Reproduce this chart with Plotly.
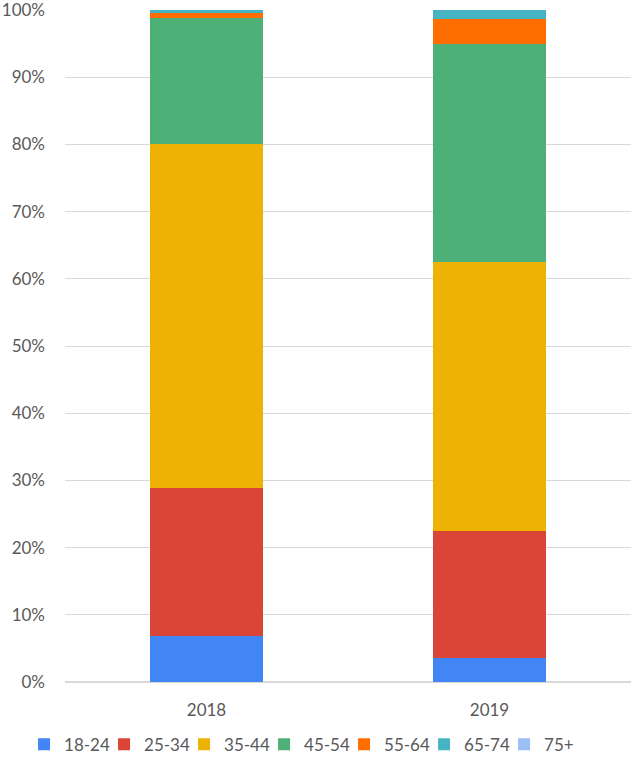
import plotly.graph_objects as graph_objects

years = ["2018", "2019"]
age_groups = ["18-24", "25-34", "35-44", "45-54", "55-64", "65-74", "75+"]
share_2018 = [6.9, 22.0, 51.2, 18.7, 0.7, 0.5, 0.0]
share_2019 = [3.6, 18.9, 40.0, 32.4, 3.8, 1.3, 0.0]
tick_values = [0, 10, 20, 30, 40, 50, 60, 70, 80, 90, 100]
colors = ["#4286F5", "#DB4537", "#EEB205", "#4DB077", "#FF6D01", "#46B4C2", "#9BBEF7"]

fig = graph_objects.Figure()
for i, group in enumerate(age_groups):
    fig.add_trace(
        graph_objects.Bar(
            x=years,
            y=[share_2018[i], share_2019[i]],
            name=group,
            marker=dict(color=colors[i], line=dict(width=0)),
        )
    )

fig.update_layout(
    barmode="stack",
    bargap=0.6,
    width=633,
    height=760,
    margin=dict(l=65, r=2, t=10, b=78, autoexpand=False),
    paper_bgcolor="white",
    plot_bgcolor="white",
    font=dict(family="Lato", size=17, color="#595959"),
    legend=dict(
        orientation="h",
        xref="container",
        yref="container",
        x=0.038,
        xanchor="left",
        y=0.02,
        yanchor="middle",
        font=dict(size=17, color="#595959"),
        itemwidth=30,
        entrywidth=35,
        traceorder="normal",
    ),
    xaxis=dict(showline=False, ticks="", tickfont=dict(size=17), ticklabelstandoff=16),
    yaxis=dict(
        range=[0, 100],
        tickvals=tick_values,
        ticktext=[f"{v}%" for v in tick_values],
        showgrid=True,
        gridcolor="#D9D9D9",
        gridwidth=1,
        zeroline=True,
        zerolinecolor="#D9D9D9",
        ticklabelstandoff=19,
        ticklabeloverflow="allow",
    ),
)

# the page body has a default 8px margin; drop it so the figure sits at the top-left
fig.write_html(
    "out.html",
    config={"displayModeBar": False},
    post_script="document.body.style.margin = '0';",
)
